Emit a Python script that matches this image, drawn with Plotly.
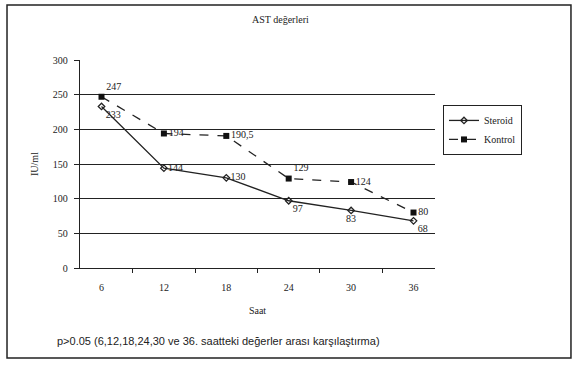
import plotly.graph_objects as go

hours = ["6", "12", "18", "24", "30", "36"]
steroid = [233, 144, 130, 97, 83, 68]
kontrol = [247, 194, 190.5, 129, 124, 80]
steroid_labels = ["233", "144", "130", "97", "83", "68"]
kontrol_labels = ["247", "194", "190,5", "129", "124", "80"]
y_ticks = [0, 50, 100, 150, 200, 250, 300]

serif = "Liberation Serif"

fig = go.Figure()
fig.add_trace(go.Scatter(
    x=hours, y=steroid, name="Steroid", mode="lines+markers+text",
    line=dict(color="#222", width=1.3),
    marker=dict(symbol="diamond-open", size=5, color="#222", line=dict(width=1.3)),
    text=steroid_labels,
    textposition=["bottom right", "middle right", "middle right", "bottom right", "bottom center", "bottom right"],
    textfont=dict(family=serif, size=10, color="#222"),
))
fig.add_trace(go.Scatter(
    x=hours, y=kontrol, name="Kontrol", mode="lines+markers+text",
    line=dict(color="#222", width=1.3, dash="dash"),
    marker=dict(symbol="square", size=6, color="#111"),
    text=kontrol_labels,
    textposition=["top right", "middle right", "middle right", "top right", "middle right", "middle right"],
    textfont=dict(family=serif, size=10, color="#222"),
))

fig.update_layout(
    width=573, height=367,
    margin=dict(l=80, r=138, t=60, b=99),
    paper_bgcolor="white", plot_bgcolor="white",
    font=dict(family=serif, size=10, color="#222"),
    showlegend=True,
    legend=dict(x=1.0225, y=0.784, xanchor="left", yanchor="top",
                bordercolor="#222", borderwidth=1, bgcolor="white",
                font=dict(family=serif, size=10, color="#222"), tracegroupgap=0),
    xaxis=dict(type="category", tickson="boundaries", ticks="outside", ticklen=4,
               tickcolor="#222", showline=True, linecolor="#222", linewidth=1.3,
               showgrid=False, tickfont=dict(family=serif, size=10),
               ticklabelstandoff=10,
               title=dict(text="Saat", font=dict(family=serif, size=10), standoff=14)),
    yaxis=dict(range=[0, 300], tickvals=y_ticks, ticks="outside", ticklen=5,
               tickcolor="#222", showline=True, linecolor="#222", linewidth=1.3,
               showgrid=True, gridcolor="#222", gridwidth=1, zeroline=False,
               tickfont=dict(family=serif, size=10),
               ticklabelstandoff=4,
               title=dict(text="IU/ml", font=dict(family=serif, size=10), standoff=12)),
    annotations=[
        dict(text="AST değerleri", x=0.565, y=1.23, xref="paper", yref="paper",
             showarrow=False, font=dict(family=serif, size=10)),
        dict(text="p>0.05 (6,12,18,24,30 ve 36. saatteki değerler arası karşılaştırma)",
             x=-0.07, y=-0.39, xref="paper", yref="paper", xanchor="left",
             showarrow=False, font=dict(family="Liberation Sans", size=11)),
    ],
    shapes=[dict(type="rect", xref="paper", yref="paper", x0=-0.2056, x1=1.383,
                 y0=-0.433, y1=1.264, line=dict(color="#222", width=1.5))],
)

fig.write_html("out.html")
